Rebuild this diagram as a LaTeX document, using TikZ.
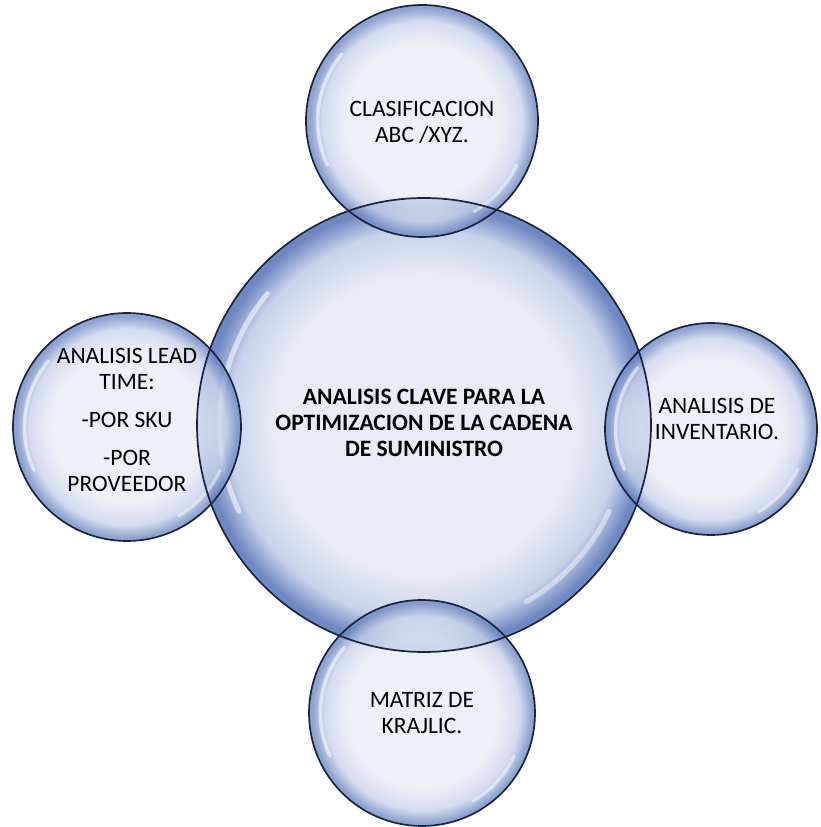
\documentclass[tikz,border=0pt]{standalone}
\usepackage{fontspec}
\setmainfont{Carlito}
\usetikzlibrary{fadings}

\definecolor{bubin}{HTML}{E9ECF6}
\definecolor{bubmid}{HTML}{C8D2EB}
\definecolor{bubout}{HTML}{7088C2}
\definecolor{bubline}{HTML}{1A2340}

% glassy bubble: pale core, blue rim
\pgfdeclareradialshading{bubble}{\pgfpointorigin}{%
  color(0bp)=(bubin); color(16.5bp)=(bubin); color(21.5bp)=(bubmid);
  color(24.3bp)=(bubout); color(25bp)=(bubout); color(50bp)=(bubout)}

\tikzset{
  bubblefill/.style={shading=bubble},
  satfill/.style={shading=bubble, fill opacity=0.78},
  rim/.style={draw=bubline, line width=1.7pt},
  shine/.style={white, line cap=round, opacity=0.55},
  label/.style={align=center, font=\fontsize{23.5}{26}\selectfont, text=black},
  mainlabel/.style={align=center, font=\fontsize{23.5}{26}\selectfont\bfseries, text=black},
}

\newcommand{\glint}[3]{% center, radius, line width
  \draw[shine, line width=#3]
    ([shift={(140:{#2*0.9})}]#1) arc[start angle=140, end angle=205, radius={#2*0.9}];
  \draw[shine, line width=#3, opacity=0.45]
    ([shift={(-25:{#2*0.9})}]#1) arc[start angle=-25, end angle=-60, radius={#2*0.9}];
}

\begin{document}
\begin{tikzpicture}[x=1pt, y=1pt]
  \useasboundingbox (0,0) rectangle (820,827);

  % centres (y measured upward)
  \coordinate (cC) at (424,402);
  \coordinate (cT) at (422,706);
  \coordinate (cL) at (127,400);
  \coordinate (cR) at (711,398);
  \coordinate (cB) at (422,114);

  % fills
  \path[bubblefill] (cC) circle[radius=227];
  \glint{cC}{227}{5pt}
  \path[satfill] (cT) circle[radius=116];
  \path[satfill] (cL) circle[radius=114];
  \path[satfill] (cR) circle[radius=106];
  \path[satfill] (cB) circle[radius=113];
  \glint{cT}{116}{3.5pt}
  \glint{cL}{114}{3.5pt}
  \glint{cR}{106}{3.5pt}
  \glint{cB}{113}{3.5pt}

  % outlines on top so every rim stays visible
  \draw[rim] (cC) circle[radius=227];
  \draw[rim] (cT) circle[radius=116];
  \draw[rim] (cL) circle[radius=114];
  \draw[rim] (cR) circle[radius=106];
  \draw[rim] (cB) circle[radius=113];

  % texts
  \node[mainlabel] (main) at (424,404)
    {ANALISIS CLAVE PARA LA\\OPTIMIZACION DE LA CADENA\\DE SUMINISTRO};
  \node[label] (top) at (422,705) {CLASIFICACION\\ABC /XYZ.};
  \node[label] (left) at (127,407)
    {ANALISIS LEAD\\TIME:\\[12pt]-POR SKU\\[12pt]-POR\\PROVEEDOR};
  \node[label] (right) at (717,408) {ANALISIS DE\\INVENTARIO.};
  \node[label] (bottom) at (422,114) {MATRIZ DE\\KRAJLIC.};
\end{tikzpicture}
\end{document}
